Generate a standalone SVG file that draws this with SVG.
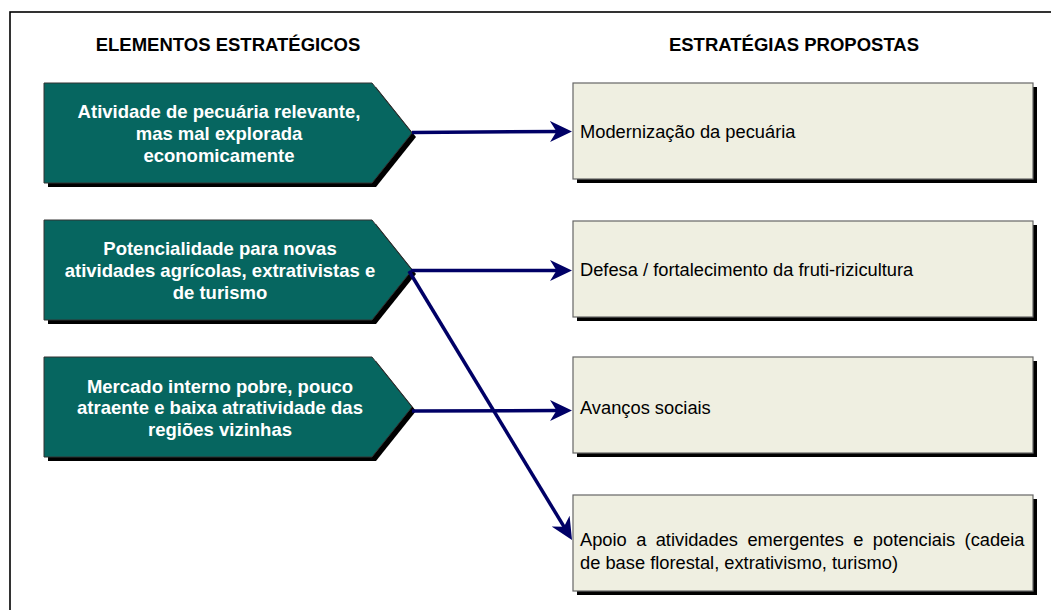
<svg xmlns="http://www.w3.org/2000/svg" width="1051" height="610" viewBox="0 0 1051 610">
<defs>
<style>
.hdr{font-family:"Liberation Sans",Arial,Helvetica,sans-serif;font-size:18.5px;font-weight:bold;fill:#000;text-anchor:middle}
.pt{font-family:"Liberation Sans",Arial,Helvetica,sans-serif;font-size:18.5px;font-weight:bold;fill:#fff;text-anchor:middle}
.bt{font-family:"Liberation Sans",Arial,Helvetica,sans-serif;font-size:18.3px;fill:#000}
.pent{fill:#066660;stroke:#333;stroke-width:1}
.sh{fill:#000}
.box{fill:#EFEFE1;stroke:#666;stroke-width:1.2}
.con{stroke:#000066;stroke-width:3.5;fill:none;marker-end:url(#ah)}
</style>
<marker id="ah" markerUnits="userSpaceOnUse" markerWidth="24" markerHeight="24" viewBox="0 0 24 24" refX="10" refY="12" orient="auto">
<path d="M0,1.5 L22,12 L0,22.5 L6.5,12 z" fill="#000066"/>
</marker>
</defs>
<rect x="0" y="0" width="1051" height="610" fill="#fff"/>
<rect x="10" y="12" width="1070" height="620" fill="none" stroke="#000" stroke-width="1.6"/>
<text class="hdr" x="228" y="51">ELEMENTOS ESTRATÉGICOS</text>
<text class="hdr" x="794" y="51">ESTRATÉGIAS PROPOSTAS</text>

<g id="e1">
<polygon class="sh" points="48,87 376,87 416,137 376,187 48,187"/>
<polygon class="pent" points="44,83 372,83 412,133 372,183 44,183"/>
<text class="pt" x="219" y="118">Atividade de pecuária relevante,</text>
<text class="pt" x="219" y="140">mas mal explorada</text>
<text class="pt" x="219" y="162">economicamente</text>
</g>
<g id="e2">
<polygon class="sh" points="48,224 376,224 416,274 376,324 48,324"/>
<polygon class="pent" points="44,220 372,220 412,270 372,320 44,320"/>
<text class="pt" x="220" y="255">Potencialidade para novas</text>
<text class="pt" x="220" y="277">atividades agrícolas, extrativistas e</text>
<text class="pt" x="220" y="299">de turismo</text>
</g>
<g id="e3">
<polygon class="sh" points="48,361 376,361 416,411 376,461 48,461"/>
<polygon class="pent" points="44,357 372,357 412,407 372,457 44,457"/>
<text class="pt" x="220" y="393">Mercado interno pobre, pouco</text>
<text class="pt" x="220" y="414">atraente e baixa atratividade das</text>
<text class="pt" x="220" y="436">regiões vizinhas</text>
</g>

<g id="s1">
<rect class="sh" x="577" y="87" width="460" height="96"/>
<rect class="box" x="573" y="83" width="460" height="96"/>
<text class="bt" x="580" y="138">Modernização da pecuária</text>
</g>
<g id="s2">
<rect class="sh" x="577" y="225" width="460" height="96"/>
<rect class="box" x="573" y="221" width="460" height="96"/>
<text class="bt" x="580" y="276">Defesa / fortalecimento da fruti-rizicultura</text>
</g>
<g id="s3">
<rect class="sh" x="577" y="361" width="460" height="96"/>
<rect class="box" x="573" y="357" width="460" height="96"/>
<text class="bt" x="580" y="414">Avanços sociais</text>
</g>
<g id="s4">
<rect class="sh" x="577" y="499" width="460" height="96"/>
<rect class="box" x="573" y="495" width="460" height="96"/>
<text class="bt" x="580" y="546" word-spacing="4.3">Apoio a atividades emergentes e potenciais (cadeia</text>
<text class="bt" x="580" y="569">de base florestal, extrativismo, turismo)</text>
</g>

<g id="connectors">
<line class="con" x1="412" y1="132.5" x2="560" y2="131.5"/>
<line class="con" x1="411" y1="270.5" x2="560" y2="270.5"/>
<line class="con" x1="412" y1="411" x2="560" y2="410.5"/>
<line class="con" x1="409" y1="271" x2="565.8" y2="529.7"/>
</g>
</svg>
